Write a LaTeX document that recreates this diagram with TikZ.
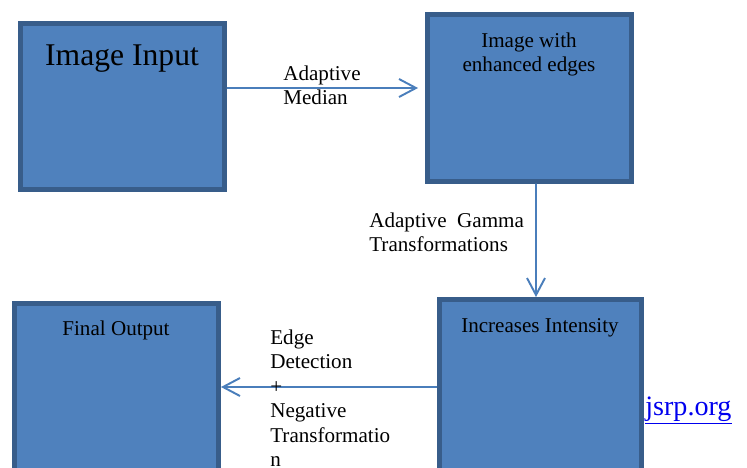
\documentclass[tikz,border=0pt]{standalone}
\usepackage{fontspec}
\setmainfont{Liberation Serif}
\usetikzlibrary{arrows.meta}
\definecolor{box-fill}{RGB}{79,129,189}
\definecolor{box-edge}{RGB}{56,93,138}
\definecolor{flow-line}{RGB}{74,126,187}
\definecolor{link-blue}{RGB}{0,0,238}
\tikzset{ blk/.style ={draw=box-edge, line width=2.8pt, fill=box-fill, inner sep=0pt} }
\tikzset{ txt/.style ={text=black, inner sep=0pt, font=\fontsize{12pt}{13.9pt}\selectfont} }
\tikzset{ flow/.style={draw=flow-line, line width=1.1pt, -{Straight Barb[length=0.34cm, width=0.36cm]}} }

\begin{document}
\begin{tikzpicture}[x=0.02cm, y=-0.02cm]
    \useasboundingbox (0,0) rectangle (747,467);
    \clip (0,0) rectangle (747,467);

    \node[blk, minimum width=4.08cm, minimum height=3.32cm] (img_in)  at (122.5, 106.5) {};
    \node[blk, minimum width=4.08cm, minimum height=3.33cm] (img_enh) at (529.5,  98.0) {};
    \node[blk, minimum width=4.04cm, minimum height=3.50cm] (img_int) at (540.5, 387.0) {};
    \node[blk, minimum width=4.08cm, minimum height=3.34cm] (img_out) at (116.5, 387.0) {};

    \node[txt, anchor=base, font=\fontsize{18pt}{21pt}\selectfont] (t_in) at (122, 65) {Image Input};
    \node[txt, anchor=north, align=center] (t_enh) at (529, 32.5) {Image with\\enhanced edges};
    \node[txt, anchor=base] (t_int) at (540, 332) {Increases Intensity};
    \node[txt, anchor=base] (t_out) at (116, 335) {Final Output};

    \draw[flow, shorten >=0.14cm] ([yshift=0.37cm]img_in.east) -- ([yshift=0.2cm]img_enh.west);
    \draw[flow] ([xshift=0.13cm]img_enh.south) -- ([xshift=-0.09cm]img_int.north);
    \draw[flow] (img_int.west) -- (img_out.east);

    \node[txt, anchor=north west, align=left] (l_med) at (283, 65.5)  {Adaptive\\Median};
    \node[txt, anchor=north west, align=left] (l_gam) at (369, 212.5) {Adaptive\ \ Gamma\\Transformations};
    \node[txt, anchor=north west, align=left] (l_edg) at (270, 329.5) {Edge\\Detection\\+\\Negative\\Transformatio\\n};

    \node[txt, anchor=base west, text=link-blue, font=\fontsize{16pt}{19pt}\selectfont] (l_url) at (645, 415) {\underline{jsrp.org}};
\end{tikzpicture}
\end{document}
